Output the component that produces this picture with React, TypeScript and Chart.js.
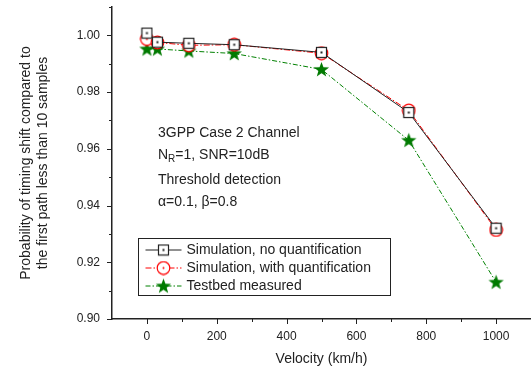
import React, { useEffect, useRef } from "react";
import { Chart, registerables } from "chart.js";
Chart.register(...registerables);

const velocities = [0, 30, 120, 250, 500, 750, 1000];
const simNoQuant = [1.0008, 0.9976, 0.9972, 0.9967, 0.9940, 0.9728, 0.9320];
const simWithQuant = [0.9987, 0.9975, 0.9965, 0.9967, 0.9937, 0.9735, 0.9314];
const testbed = [0.9952, 0.9952, 0.9945, 0.9936, 0.9880, 0.9630, 0.9130];
const seriesLabels = [
  "Simulation, no quantification",
  "Simulation, with quantification",
  "Testbed measured",
];
const xTickValues = [0, 200, 400, 600, 800, 1000];
const yTickValues = [0.9, 0.92, 0.94, 0.96, 0.98, 1.0];
const annotationLines = ["3GPP Case 2 Channel", "N_R=1, SNR=10dB", "Threshold detection", "α=0.1, β=0.8"];

function makeImg(size: number, draw: (ctx: CanvasRenderingContext2D, s: number) => void) {
  const c = document.createElement("canvas");
  c.width = size;
  c.height = size;
  const ctx = c.getContext("2d")!;
  draw(ctx, size);
  return c;
}

const squareImg = makeImg(13, (ctx, s) => {
  ctx.strokeStyle = "#222";
  ctx.lineWidth = 1.2;
  ctx.fillStyle = "#fff";
  ctx.fillRect(1.5, 1.5, s - 3, s - 3);
  ctx.strokeRect(1.5, 1.5, s - 3, s - 3);
  ctx.fillStyle = "#222";
  ctx.fillRect(s / 2 - 1, s / 2 - 1, 2, 2);
});
const circleImg = makeImg(15, (ctx, s) => {
  ctx.strokeStyle = "#ff0000";
  ctx.lineWidth = 1.2;
  ctx.fillStyle = "#fff";
  ctx.beginPath();
  ctx.arc(s / 2, s / 2, s / 2 - 1.2, 0, Math.PI * 2);
  ctx.fill();
  ctx.stroke();
  ctx.fillStyle = "#ff0000";
  ctx.beginPath();
  ctx.arc(s / 2, s / 2, 1, 0, Math.PI * 2);
  ctx.fill();
});
const starImg = makeImg(17, (ctx, s) => {
  ctx.fillStyle = "#007a00";
  ctx.beginPath();
  const cx = s / 2, cy = s / 2 + 0.5, ro = 8, ri = 3.3;
  for (let i = 0; i < 10; i++) {
    const r = i % 2 === 0 ? ro : ri;
    const a = -Math.PI / 2 + (i * Math.PI) / 5;
    const x = cx + r * Math.cos(a), y = cy + r * Math.sin(a);
    if (i === 0) ctx.moveTo(x, y);
    else ctx.lineTo(x, y);
  }
  ctx.closePath();
  ctx.fill();
});

const styles = [
  { color: "#222", dash: [] as number[], img: squareImg },
  { color: "#ff0000", dash: [6, 2, 1.5, 2], img: circleImg },
  { color: "#008000", dash: [5, 2, 1.5, 2], img: starImg },
];

const FONT = "Arial, 'Liberation Sans', sans-serif";

const stretchPlugin = {
  id: "stretch",
  afterLayout(chart: any) {
    const xs = chart.scales.x;
    const target = chart.width;
    xs.right = target;
    xs.width = target - xs.left;
    xs.configure();
    chart.chartArea.right = target;
    chart.chartArea.width = target - chart.chartArea.left;
  },
};

const overlayPlugin = {
  id: "overlay",
  afterDraw(chart: any) {
    const ctx = chart.ctx as CanvasRenderingContext2D;
    const { left, bottom } = chart.chartArea;
    const xs = chart.scales.x, ys = chart.scales.y;
    ctx.save();
    ctx.strokeStyle = "#222";
    ctx.lineWidth = 1;
    for (let v = 0; v <= 1100; v += 100) {
      const px = Math.round(xs.getPixelForValue(v)) + 0.5;
      const len = v % 200 === 0 && v <= 1000 ? 5 : 3;
      ctx.beginPath();
      ctx.moveTo(px, bottom);
      ctx.lineTo(px, bottom + len);
      ctx.stroke();
    }
    for (let i = 90; i <= 101; i++) {
      const py = Math.round(ys.getPixelForValue(i / 100)) + 0.5;
      const len = i % 2 === 0 && i <= 100 ? 5 : 3;
      ctx.beginPath();
      ctx.moveTo(left, py);
      ctx.lineTo(left - len, py);
      ctx.stroke();
    }
    ctx.fillStyle = "#222";
    ctx.font = `14px ${FONT}`;
    ctx.textBaseline = "middle";
    ctx.textAlign = "left";
    const tx = left + 46;
    const y0 = ys.getPixelForValue(1.01);
    const rowsY = [y0 + 126, y0 + 148, y0 + 173, y0 + 195];
    ctx.fillText(annotationLines[0], tx, rowsY[0]);
    ctx.fillText("N", tx, rowsY[1]);
    let w = ctx.measureText("N").width;
    ctx.font = `10px ${FONT}`;
    ctx.fillText("R", tx + w, rowsY[1] + 4);
    w += ctx.measureText("R").width;
    ctx.font = `14px ${FONT}`;
    ctx.fillText("=1, SNR=10dB", tx + w, rowsY[1]);
    ctx.fillText(annotationLines[2], tx, rowsY[2]);
    ctx.fillText(annotationLines[3], tx, rowsY[3]);
    const bx = left + 26.5, by = Math.round(y0) + 231.5, bw = 252, bh = 57;
    ctx.fillStyle = "#fff";
    ctx.fillRect(bx, by, bw, bh);
    ctx.strokeStyle = "#222";
    ctx.lineWidth = 1;
    ctx.strokeRect(bx, by, bw, bh);
    for (let i = 0; i < 3; i++) {
      const ry = by + 11.5 + i * 18;
      const st = styles[i];
      ctx.strokeStyle = st.color;
      ctx.setLineDash(st.dash);
      ctx.beginPath();
      ctx.moveTo(bx + 7, ry);
      ctx.lineTo(bx + 43, ry);
      ctx.stroke();
      ctx.setLineDash([]);
      ctx.drawImage(st.img, bx + 25 - st.img.width / 2, ry - st.img.height / 2);
      ctx.fillStyle = "#222";
      ctx.font = `14px ${FONT}`;
      ctx.fillText(seriesLabels[i], bx + 48, ry);
    }
    ctx.restore();
  },
};

export default function App() {
  const ref = useRef<HTMLCanvasElement>(null);
  useEffect(() => {
    document.body.style.margin = "0";
    const series = [simNoQuant, simWithQuant, testbed];
    const chart = new Chart(ref.current!, {
      type: "line",
      data: {
        datasets: series.map((d, i) => ({
          label: seriesLabels[i],
          data: velocities.map((v, j) => ({ x: v, y: d[j] })),
          borderColor: styles[i].color,
          borderWidth: 1,
          borderDash: styles[i].dash,
          pointStyle: styles[i].img as any,
          tension: 0,
        })),
      },
      options: {
        animation: false,
        responsive: false,
        layout: { padding: { top: 7, right: 0, left: 0, bottom: 0 } },
        plugins: { legend: { display: false }, tooltip: { enabled: false } },
        scales: {
          x: {
            type: "linear",
            min: -100,
            max: 1100,
            border: { display: true, color: "#222", width: 1.5 },
            grid: { display: false },
            afterBuildTicks: (s: any) => { s.ticks = xTickValues.map((value) => ({ value })); },
            ticks: {
              autoSkip: false,
              color: "#222",
              font: { family: FONT, size: 12 },
              padding: 2,
              maxRotation: 0,
              callback: (v: any) => String(v),
            },
            title: {
              display: true,
              text: "Velocity (km/h)",
              color: "#222",
              font: { family: FONT, size: 14 },
              padding: { top: 4, bottom: 3 },
            },
            afterFit: (s: any) => { s.height = 52; s.paddingLeft = 0; s.paddingRight = 0; },
          },
          y: {
            min: 0.9,
            max: 1.01,
            border: { display: true, color: "#222", width: 1.5 },
            grid: { display: false },
            afterBuildTicks: (s: any) => { s.ticks = yTickValues.map((value) => ({ value })); },
            ticks: {
              autoSkip: false,
              color: "#222",
              font: { family: FONT, size: 12 },
              padding: 4,
              callback: (v: any) => Number(v).toFixed(2),
            },
            title: {
              display: true,
              text: ["Probability of timing shift compared to", "the first path less than 10 samples"],
              color: "#222",
              font: { family: FONT, size: 14, lineHeight: 1.2 },
              padding: { top: 18, bottom: 0 },
            },
            afterFit: (s: any) => { s.width = 112; s.paddingTop = 0; s.paddingBottom = 0; },
          },
        },
      },
      plugins: [stretchPlugin, overlayPlugin],
    });
    return () => chart.destroy();
  }, []);
  return (
    <div style={{ position: "absolute", left: 0, top: 0, width: 531, height: 371 }}>
      <canvas ref={ref} width={531} height={371} style={{ width: 531, height: 371 }} />
    </div>
  );
}
